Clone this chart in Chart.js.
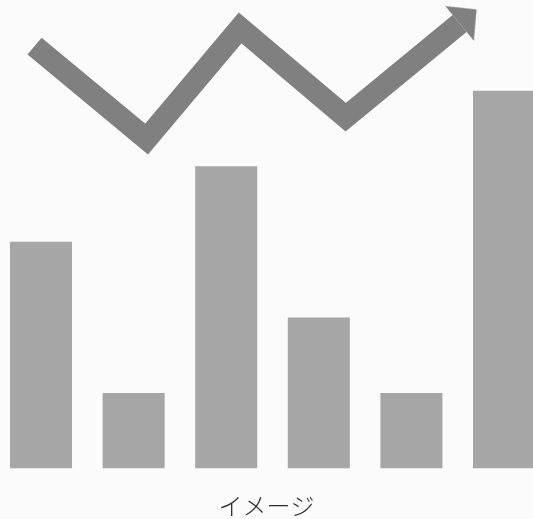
<!DOCTYPE html>
<html lang="ja">
<head>
<meta charset="utf-8">
<title>イメージ</title>
<script src="https://cdn.jsdelivr.net/npm/chart.js@4/dist/chart.umd.min.js"></script>
<style>
  html, body { margin: 0; padding: 0; background: #fbfbfb; }
  #wrap { width: 533px; height: 519px; }
</style>
</head>
<body>
<div id="wrap"><canvas id="imageChart"></canvas></div>
<script>
// Bar positions and heights
const barPositions = [1, 2, 3, 4, 5, 6];
const barValues = [3, 1, 4, 2, 1, 5];

// Trend line drawn over the bars (last point carries the arrow head)
const trendX = [0.93, 2.14, 3.15, 4.29, 5.52];
const trendY = [5.59, 4.36, 5.83, 4.65, 5.89];

const titleText = 'イメージ';

// Arrow head sprite, pointing right, centred on the end of the line
function makeArrowHead() {
    const c = document.createElement('canvas');
    c.width = 44;
    c.height = 46;
    const g = c.getContext('2d');
    g.fillStyle = '#808080';
    g.beginPath();
    g.moveTo(22, 0.5);
    g.lineTo(44, 23);
    g.lineTo(22, 45.5);
    g.closePath();
    g.fill();
    return c;
}
const arrowHead = makeArrowHead();
const lastIdx = trendX.length - 1;

// Angle of the last segment on screen, so the head follows the line
function arrowAngle(ctx) {
    const xs = ctx.chart.scales.x;
    const ys = ctx.chart.scales.y;
    if (!xs || !ys) return -40;
    const dx = xs.getPixelForValue(trendX[lastIdx]) - xs.getPixelForValue(trendX[lastIdx - 1]);
    const dy = ys.getPixelForValue(trendY[lastIdx]) - ys.getPixelForValue(trendY[lastIdx - 1]);
    return Math.atan2(dy, dx) * 180 / Math.PI;
}

const config = {
    type: 'bar',
    data: {
        datasets: [{
            type: 'line',
            data: trendX.map((x, i) => ({ x: x, y: trendY[i] })),
            borderColor: '#808080',
            borderWidth: 22,
            borderJoinStyle: 'miter',
            borderCapStyle: 'butt',
            tension: 0,
            fill: false,
            clip: false,
            pointStyle: ctx => ctx.dataIndex === lastIdx ? arrowHead : 'circle',
            pointRadius: ctx => ctx.dataIndex === lastIdx ? 1 : 0,
            pointRotation: ctx => ctx.dataIndex === lastIdx ? arrowAngle(ctx) : 0,
            pointHoverRadius: 0,
            order: 0
        }, {
            type: 'bar',
            data: barPositions.map((x, i) => ({ x: x, y: barValues[i] })),
            backgroundColor: '#a6a6a6',
            borderWidth: 0,
            barPercentage: 0.67,
            categoryPercentage: 1,
            order: 1
        }]
    },
    options: {
        responsive: true,
        maintainAspectRatio: false,
        animation: false,
        events: [],
        layout: { padding: 0, autoPadding: false },
        scales: {
            x: { type: 'linear', min: 0.557, max: 6.313, offset: false, display: false },
            y: { min: 0, max: 6.2, display: false }
        },
        plugins: {
            legend: { display: false },
            tooltip: { enabled: false },
            title: {
                display: true,
                text: titleText,
                position: 'bottom',
                color: '#2a2a2a',
                font: { family: '"Noto Sans CJK JP", "Noto Sans", sans-serif', size: 24, weight: 300, lineHeight: 1.1 },
                padding: { top: 24, bottom: 0 }
            }
        }
    }
};

const imageChart = new Chart(document.getElementById('imageChart'), config);
</script>
</body>
</html>
